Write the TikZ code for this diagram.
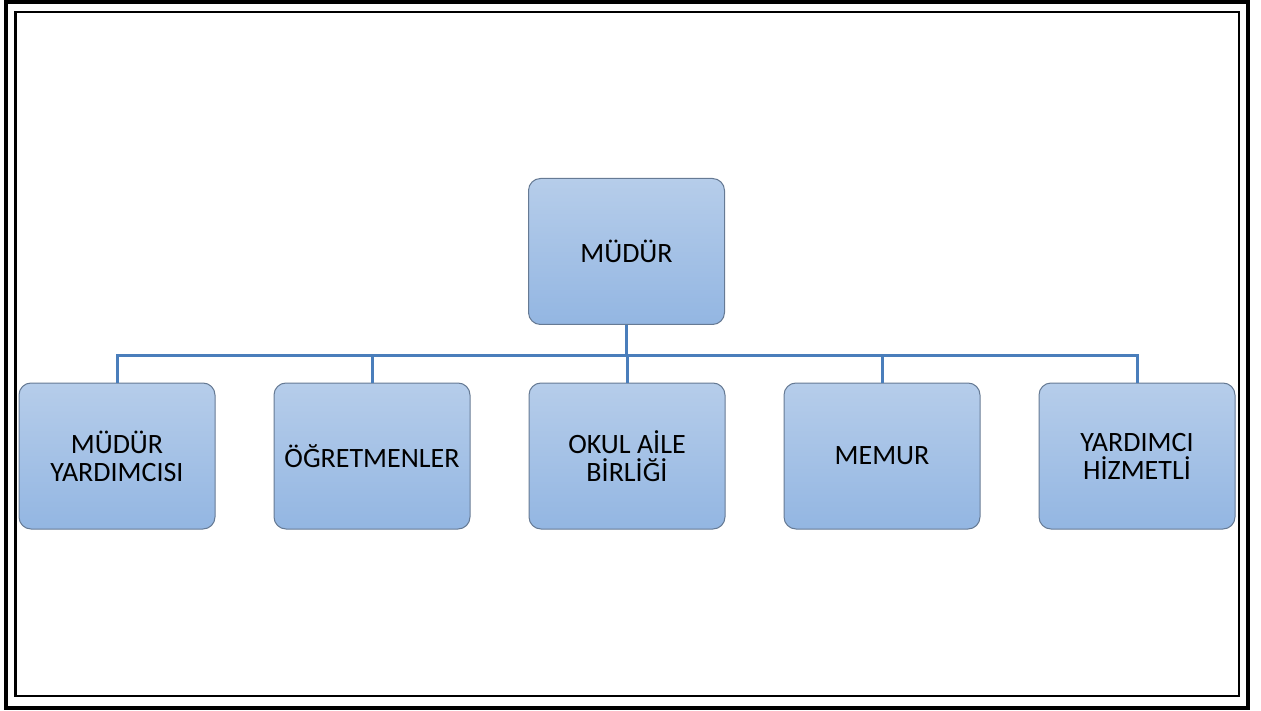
\documentclass[tikz,border=0pt]{standalone}
\usepackage{fontspec}
\setmainfont{Carlito}
\usetikzlibrary{positioning}

\definecolor{boxtop}{RGB}{182,205,234}
\definecolor{boxbot}{RGB}{147,182,226}
\definecolor{boxline}{RGB}{102,122,148}
\definecolor{linkblue}{RGB}{74,126,187}

\begin{document}
\begin{tikzpicture}[
    x=1pt, y=-1pt,
    font=\fontsize{28}{28}\selectfont,
    node distance=58pt,
    % Styles
    unitbox/.style={
        draw=boxline, line width=1pt, rounded corners=12pt,
        top color=boxtop, bottom color=boxbot,
        minimum width=196pt, minimum height=146pt,
        align=center, inner sep=4pt
    },
    link/.style={draw=linkblue, line width=3pt}
]
    \useasboundingbox (0,0) rectangle (1261,711);

    % --- Frames ---
    \draw[line width=4pt] (6,2) rectangle (1248,708);
    \draw[line width=2.5pt] (15.5,12) rectangle (1239,696);

    % --- Top ---
    \node[unitbox] (boss) at (626.5,251.5) {MÜDÜR};

    % --- Row 2 ---
    \node[unitbox] (vice) at (117,456) {MÜDÜR\\YARDIMCISI};
    \node[unitbox, right=of vice] (teach) {ÖĞRETMENLER};
    \node[unitbox, right=of teach] (pta) {OKUL AİLE\\BİRLİĞİ};
    \node[unitbox, right=of pta] (clerk) {MEMUR};
    \node[unitbox, right=of clerk] (aide) {YARDIMCI\\HİZMETLİ};

    % --- Connections ---
    \foreach \n in {vice,teach,pta,clerk,aide}
        \draw[link] (boss.south) -- ++(0pt,-30pt) -| (\n.north);

\end{tikzpicture}
\end{document}
